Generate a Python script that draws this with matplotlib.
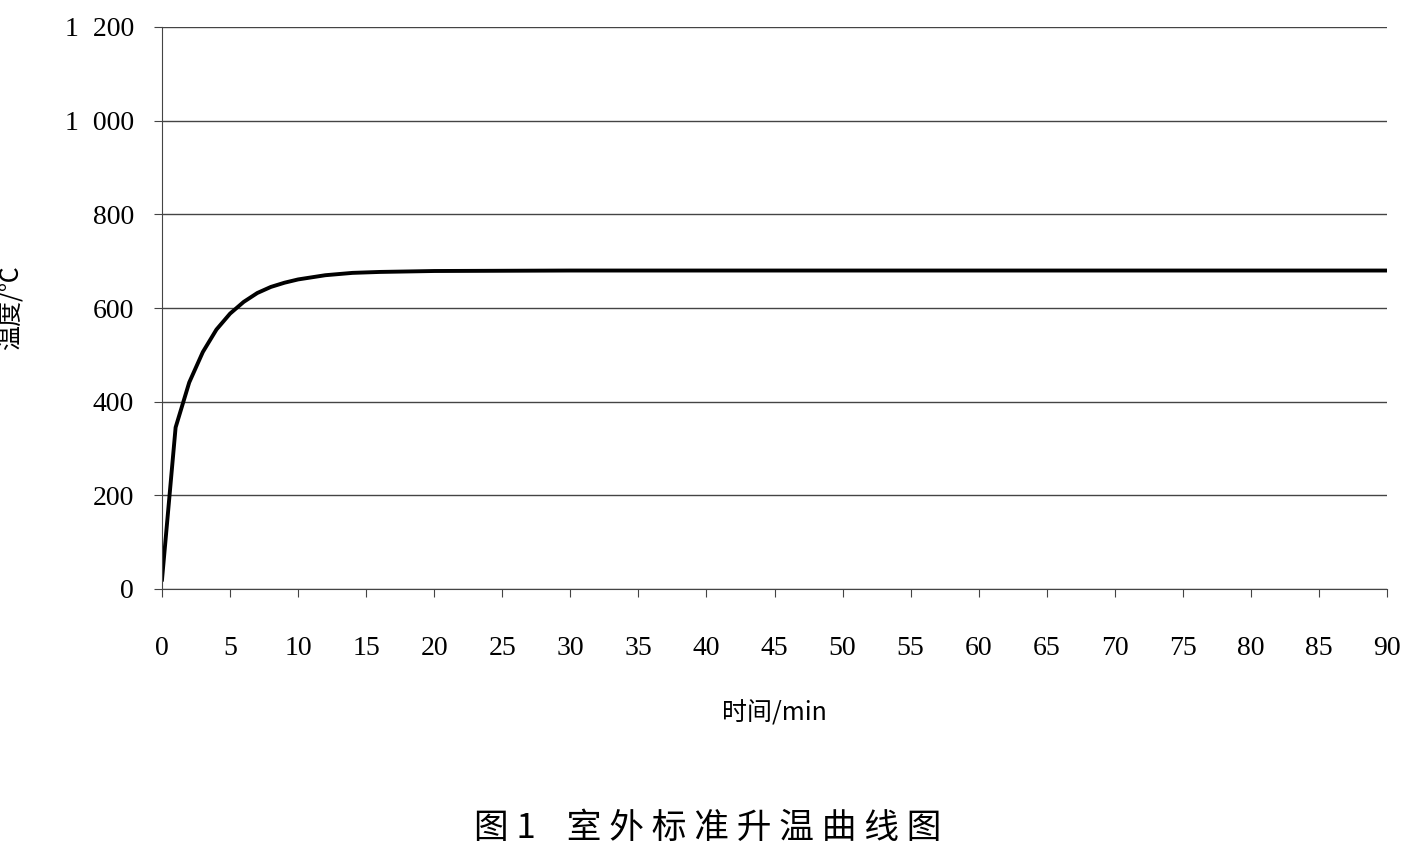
import matplotlib.pyplot as plt

# values
time_min = [0, 1, 2, 3, 4, 5, 6, 7, 8, 9, 10, 12, 14, 16, 20, 30, 45, 60, 75, 90]
temp_c = [20, 345, 441, 506, 554, 588, 613, 632, 645, 654, 661, 670, 675, 677, 679, 680, 680, 680, 680, 680]
y_ticks = [0, 200, 400, 600, 800, 1000, 1200]
y_labels = ["0", "200", "400", "600", "800", "1  000", "1  200"]
x_ticks = list(range(0, 91, 5))

NUM = ["Liberation Serif", "Noto Sans CJK SC"]
CJK = ["Noto Sans CJK SC", "DejaVu Sans"]

fig = plt.figure(figsize=(14.15, 8.61), dpi=100)
ax = fig.add_axes([162 / 1415, 1 - 589 / 861, (1387 - 162) / 1415, (589 - 27) / 861])

ax.plot(time_min, temp_c, color="black", linewidth=2.8)
ax.set_xlim(0, 90)
ax.set_ylim(0, 1200)
ax.set_xticks(x_ticks)
ax.set_xticklabels([str(v) for v in x_ticks], family=NUM, fontsize=20)
ax.set_yticks(y_ticks)
ax.set_yticklabels(y_labels, family=NUM, fontsize=20)
ax.grid(axis="y", color="#444444", linewidth=1)
for s in ["top", "right"]:
    ax.spines[s].set_visible(False)
ax.spines["left"].set_color("#444444")
ax.spines["bottom"].set_color("#444444")
ax.tick_params(axis="both", direction="out", length=6, color="#444444")
ax.tick_params(axis="x", pad=28)
ax.tick_params(axis="y", pad=14)

ax.set_xlabel("时间/min", family=CJK, fontsize=18, labelpad=28)
ax.set_ylabel("温度/℃", family=CJK, fontsize=18, labelpad=30)

fig.text(0.5, 1 - 828 / 861, "图 1    室 外 标 准 升 温 曲 线 图", family=CJK, fontsize=25,
         fontweight="medium", ha="center", va="center")

fig.savefig("out.png", dpi=100)
